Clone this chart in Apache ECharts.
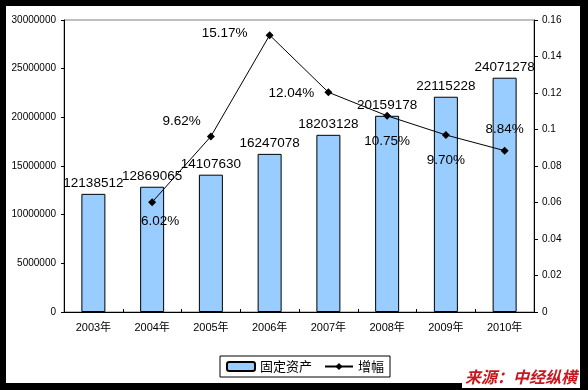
<!DOCTYPE html>
<html><head><meta charset="utf-8">
<script src="https://cdn.jsdelivr.net/npm/echarts@6/dist/echarts.min.js"></script>
<style>html,body{margin:0;padding:0;background:#000;}#c{width:588px;height:390px;}</style>
</head><body><div id="c"></div>
<script>
const categories = ['2003年','2004年','2005年','2006年','2007年','2008年','2009年','2010年'];
const assets = [12138512, 12869065, 14107630, 16247078, 18203128, 20159178, 22115228, 24071278];
const growth = [null, 0.0602, 0.0962, 0.1517, 0.1204, 0.1075, 0.0970, 0.0884];
const seriesNames = ['固定资产', '增幅'];
const sourceText = '来源：中经纵横';

const FONT = '"Liberation Sans", "Noto Sans CJK SC", sans-serif';
// label placement per point (style only)
const lblStyle = [
  null,
  {position: 'bottom', distance: 8, offset: [8, 0]},
  {position: 'left', distance: 6, offset: [0, -15]},
  {position: 'left', distance: 18, offset: [0, -2]},
  {position: 'left', distance: 10, offset: [0, 1]},
  {position: 'bottom', distance: 15, offset: [0, 0]},
  {position: 'bottom', distance: 15, offset: [0, 0]},
  {position: 'top', distance: 11, offset: [0, 0]}
];
const lineData = growth.map((v, i) => {
  if (v === null) return null;
  return {value: v, label: lblStyle[i]};
});

const chart = echarts.init(document.getElementById('c'), null, {renderer: 'canvas'});
chart.setOption({
  backgroundColor: '#000',
  animation: false,
  textStyle: {fontFamily: FONT},
  graphic: [
    {type: 'rect', z: -100, shape: {x: 6, y: 6, width: 574, height: 377}, style: {fill: '#fff'}},
    {type: 'rect', z: -100, shape: {x: 462, y: 368, width: 118, height: 20}, style: {fill: '#fff'}},
    {type: 'text', z: 100, left: 465, top: 369, style: {text: sourceText, fill: '#c8171f', font: 'italic bold 16px "Noto Sans CJK SC", sans-serif'}}
  ],
  grid: {left: 64, right: 54, top: 20, bottom: 78, show: true, borderColor: '#808080', borderWidth: 1, backgroundColor: 'transparent'},
  legend: {
    left: 220, top: 356, width: 170,
    data: seriesNames,
    borderColor: '#000', borderWidth: 1, borderRadius: 0,
    padding: [4, 6, 4, 6],
    itemWidth: 28, itemHeight: 9, itemGap: 12,
    textStyle: {fontSize: 13, color: '#000', fontFamily: '"Noto Sans CJK SC", sans-serif'}
  },
  xAxis: {
    type: 'category', data: categories, boundaryGap: true,
    axisLine: {lineStyle: {color: '#000', width: 1}},
    axisTick: {show: true, inside: true, length: 3, lineStyle: {color: '#000'}},
    axisLabel: {color: '#000', fontSize: 11, margin: 10, fontFamily: FONT}
  },
  yAxis: [
    {
      type: 'value', min: 0, max: 30000000, interval: 5000000,
      axisLine: {show: true, lineStyle: {color: '#000'}},
      axisTick: {show: true, length: 3, lineStyle: {color: '#000'}},
      splitLine: {show: false},
      axisLabel: {color: '#000', fontSize: 10, margin: 8, fontFamily: FONT,
        formatter: v => String(v)}
    },
    {
      type: 'value', min: 0, max: 0.16, interval: 0.02, position: 'right',
      axisLine: {show: true, lineStyle: {color: '#000'}},
      axisTick: {show: true, length: 4, lineStyle: {color: '#000'}},
      splitLine: {show: false},
      axisLabel: {color: '#000', fontSize: 10, margin: 8, fontFamily: FONT,
        formatter: v => String(+v.toFixed(2))}
    }
  ],
  series: [
    {
      name: seriesNames[0], type: 'bar', data: assets, barWidth: 24,
      itemStyle: {color: '#99ccff', borderColor: '#000', borderWidth: 1},
      label: {show: true, position: 'top', distance: 4, color: '#000', fontSize: 13.5, fontFamily: FONT}
    },
    {
      name: seriesNames[1], type: 'line', yAxisIndex: 1, data: lineData,
      connectNulls: false,
      symbol: 'diamond', symbolSize: 8, showAllSymbol: true,
      lineStyle: {color: '#000', width: 1},
      itemStyle: {color: '#000'},
      label: {show: true, color: '#000', fontSize: 13.5, fontFamily: FONT,
        formatter: p => (p.value * 100).toFixed(2) + '%'}
    }
  ]
});
</script></body></html>
